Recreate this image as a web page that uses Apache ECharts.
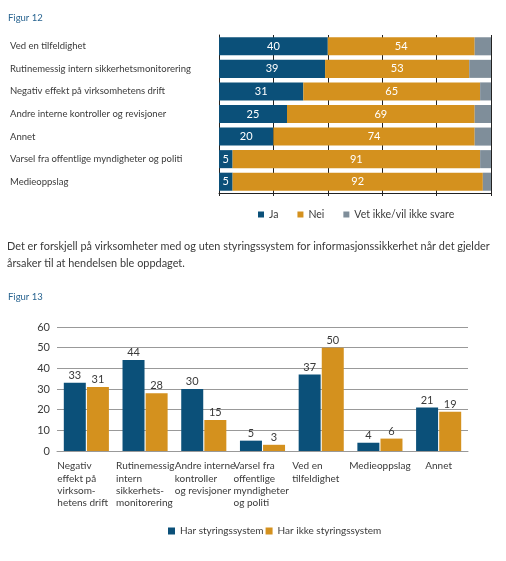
<!DOCTYPE html>
<html><head><meta charset="utf-8">
<script src="https://cdn.jsdelivr.net/npm/echarts@6/dist/echarts.min.js"></script>
<style>html,body{margin:0;padding:0;background:#fff}#c{width:506px;height:561px}</style>
</head><body><div id="c"></div>
<script>
const fig12Categories = ['Ved en tilfeldighet', 'Rutinemessig intern sikkerhetsmonitorering', 'Negativ effekt på virksomhetens drift', 'Andre interne kontroller og revisjoner', 'Annet', 'Varsel fra offentlige myndigheter og politi', 'Medieoppslag'];
const fig12Ja = [40, 39, 31, 25, 20, 5, 5];
const fig12Nei = [54, 53, 65, 69, 74, 91, 92];
const fig12Vet = [6, 8, 4, 6, 6, 4, 3];
const fig12SeriesNames = ['Ja', 'Nei', 'Vet ikke/vil ikke svare'];

const fig13Categories = ['Negativ\neffekt på\nvirksom-\nhetens drift', 'Rutinemessig\nintern\nsikkerhets-\nmonitorering', 'Andre interne\nkontroller\nog revisjoner', 'Varsel fra\noffentlige\nmyndigheter\nog politi', 'Ved en\ntilfeldighet', 'Medieoppslag', 'Annet'];
const fig13Har = [33, 44, 30, 5, 37, 4, 21];
const fig13IkkeHar = [31, 28, 15, 3, 50, 6, 19];
const fig13SeriesNames = ['Har styringssystem', 'Har ikke styringssystem'];

const titleFig12 = 'Figur 12';
const titleFig13 = 'Figur 13';
const paragraphText = 'Det er forskjell på virksomheter med og uten styringssystem for informasjonssikkerhet når det gjelder\nårsaker til at hendelsen ble oppdaget.';

const FONT = 'Lato';
const BLUE = '#0b5079', ORANGE = '#d4911e', GRAY = '#7f8e9a';
const TXT = '#3a3a3a';

const chart = echarts.init(document.getElementById('c'), null, {renderer: 'canvas'});
chart.setOption({
  animation: false,
  textStyle: {fontFamily: FONT},
  graphic: [
    {type: 'text', left: 8, top: 13, style: {text: titleFig12, fontFamily: FONT, fontSize: 9.5, fill: '#2a6591'}},
    {type: 'text', left: 7, top: 238, style: {text: paragraphText, font: '10.9px Lato', lineHeight: 17, fill: TXT}},
    {type: 'text', left: 8, top: 292, style: {text: titleFig13, fontFamily: FONT, fontSize: 9.5, fill: '#2a6591'}}
  ],
  legend: [
    {data: fig12SeriesNames, left: 258, top: 209, padding: 0, icon: 'rect', itemWidth: 6, itemHeight: 6, itemGap: 19,
      textStyle: {fontFamily: FONT, fontSize: 10.5, color: TXT}, selectedMode: false},
    {data: fig13SeriesNames, left: 168, top: 526, padding: 0, icon: 'rect', itemWidth: 7, itemHeight: 7, itemGap: 2,
      textStyle: {fontFamily: FONT, fontSize: 10, color: TXT}, selectedMode: false}
  ],
  grid: [
    {left: 219, top: 35, width: 272, height: 158},
    {left: 57, top: 327, width: 411, height: 124}
  ],
  xAxis: [
    {gridIndex: 0, type: 'value', min: 0, max: 100, interval: 20,
      axisLabel: {show: false},
      axisLine: {show: true, lineStyle: {color: '#222'}},
      axisTick: {show: true, length: 3, lineStyle: {color: '#222'}},
      splitLine: {show: true, lineStyle: {color: '#222', width: 1}}},
    {gridIndex: 1, type: 'category', data: fig13Categories,
      axisLine: {lineStyle: {color: '#999'}}, axisTick: {show: false},
      axisLabel: {interval: 0, margin: 9, color: TXT, fontFamily: FONT, fontSize: 10, lineHeight: 12.3, align: 'center', verticalAlign: 'top',
        formatter: v => v.indexOf('\n') < 0 ? '{c|' + v + '}' : v.split('\n').map(l => '{l|' + l + '}').join('\n'),
        rich: {
          l: {align: 'left', width: 58, fontFamily: FONT, fontSize: 10, lineHeight: 12.3, color: TXT},
          c: {fontFamily: FONT, fontSize: 10, lineHeight: 12.3, color: TXT}
        }}}
  ],
  yAxis: [
    {gridIndex: 0, type: 'category', inverse: true, data: fig12Categories,
      axisLine: {show: true, lineStyle: {color: '#222'}}, axisTick: {show: false},
      axisLabel: {align: 'left', margin: 209, color: TXT, fontFamily: FONT, fontSize: 9.5}},
    {gridIndex: 1, type: 'value', min: 0, max: 60, interval: 10,
      axisLine: {show: false}, axisTick: {show: false},
      axisLabel: {color: TXT, fontFamily: FONT, fontSize: 11, margin: 7},
      splitLine: {lineStyle: {color: '#999'}}}
  ],
  series: [
    {name: fig12SeriesNames[0], type: 'bar', stack: 'a', xAxisIndex: 0, yAxisIndex: 0, data: fig12Ja, barWidth: '80%',
      itemStyle: {color: BLUE}, label: {show: true, position: 'inside', color: '#fff', fontFamily: FONT, fontSize: 11}},
    {name: fig12SeriesNames[1], type: 'bar', stack: 'a', xAxisIndex: 0, yAxisIndex: 0, data: fig12Nei, barWidth: '80%',
      itemStyle: {color: ORANGE}, label: {show: true, position: 'inside', color: '#fff', fontFamily: FONT, fontSize: 11}},
    {name: fig12SeriesNames[2], type: 'bar', stack: 'a', xAxisIndex: 0, yAxisIndex: 0, data: fig12Vet, barWidth: '80%',
      itemStyle: {color: GRAY}, label: {show: false}},
    {name: fig13SeriesNames[0], type: 'bar', xAxisIndex: 1, yAxisIndex: 1, data: fig13Har, barWidth: 22, barGap: '5%',
      itemStyle: {color: BLUE}, label: {show: true, position: 'top', distance: 2, color: TXT, fontFamily: FONT, fontSize: 11}},
    {name: fig13SeriesNames[1], type: 'bar', xAxisIndex: 1, yAxisIndex: 1, data: fig13IkkeHar, barWidth: 22, barGap: '5%',
      itemStyle: {color: ORANGE}, label: {show: true, position: 'top', distance: 2, color: TXT, fontFamily: FONT, fontSize: 11}}
  ]
});
</script></body></html>
